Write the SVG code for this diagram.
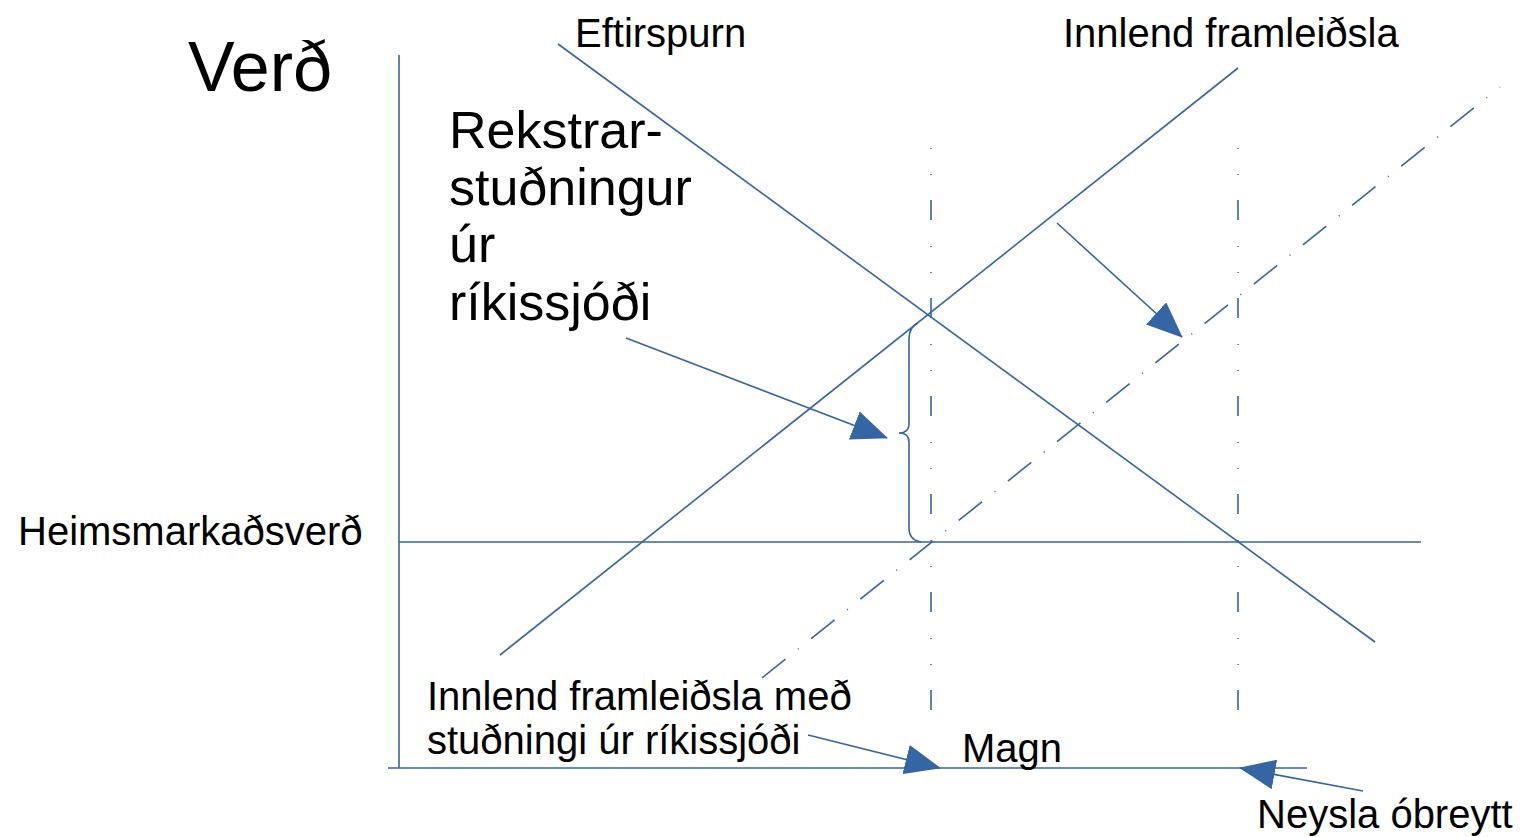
<svg xmlns="http://www.w3.org/2000/svg" width="1524" height="837" viewBox="0 0 1524 837">
<style>
.ln{stroke:#3465a4;stroke-width:1.6;fill:none}
.dd{stroke:#3465a4;stroke-width:1.6;fill:none;stroke-dasharray:1 25 1 25 20 26}
.dg{stroke:#3465a4;stroke-width:1.6;fill:none;stroke-dasharray:30 16 1 16}
.t{font-family:"Liberation Sans",Arial,sans-serif;fill:#000}
</style>
<defs>
<marker id="ah" viewBox="0 0 36 30" refX="35" refY="15" markerWidth="36" markerHeight="30" markerUnits="userSpaceOnUse" orient="auto">
<path d="M0,0 L36,15 L0,30 Z" fill="#3465a4"/>
</marker>
</defs>
<rect width="1524" height="837" fill="#fff"/>
<g id="connectors">
<line class="ln" x1="399" y1="55" x2="399" y2="768"/>
<line class="ln" x1="388" y1="768" x2="1307" y2="768"/>
<line class="ln" x1="399" y1="542" x2="1421" y2="542"/>
<line class="ln" x1="558" y1="44" x2="1375" y2="642"/>
<line class="ln" x1="500" y1="655" x2="1238" y2="68"/>
<line class="dg" x1="762" y1="678" x2="1500" y2="87"/>
<line class="dd" x1="931" y1="148" x2="931" y2="722"/>
<line class="dd" x1="1238" y1="148" x2="1238" y2="722"/>
<path class="ln" d="M918,323 Q909,327 909,339 L909,424 Q909,433 899,433 Q909,433 909,442 L909,528 Q909,540 921,542"/>
<line class="ln" x1="1057" y1="223" x2="1182" y2="337" marker-end="url(#ah)"/>
<line class="ln" x1="626" y1="338" x2="887" y2="438" marker-end="url(#ah)"/>
<line class="ln" x1="808" y1="735" x2="940" y2="768" marker-end="url(#ah)"/>
<line class="ln" x1="1363" y1="791" x2="1240" y2="768" marker-end="url(#ah)"/>
</g>
<g id="label-verd"><text class="t" x="188" y="91" font-size="70">Verð</text></g>
<g id="label-eftirspurn"><text class="t" x="575" y="47" font-size="40">Eftirspurn</text></g>
<g id="label-innlend"><text class="t" x="1063" y="47" font-size="40">Innlend framleiðsla</text></g>
<g id="label-rekstrar"><text class="t" font-size="52"><tspan x="449" y="148">Rekstrar-</tspan><tspan x="449" y="205">stuðningur</tspan><tspan x="449" y="262">úr</tspan><tspan x="449" y="320">ríkissjóði</tspan></text></g>
<g id="label-heims"><text class="t" x="18" y="545" font-size="40">Heimsmarkaðsverð</text></g>
<g id="label-studningi"><text class="t" font-size="40"><tspan x="427" y="710">Innlend framleiðsla með</tspan><tspan x="427" y="754">stuðningi úr ríkissjóði</tspan></text></g>
<g id="label-magn"><text class="t" x="962" y="762" font-size="40">Magn</text></g>
<g id="label-neysla"><text class="t" x="1257" y="828" font-size="40">Neysla óbreytt</text></g>
</svg>
